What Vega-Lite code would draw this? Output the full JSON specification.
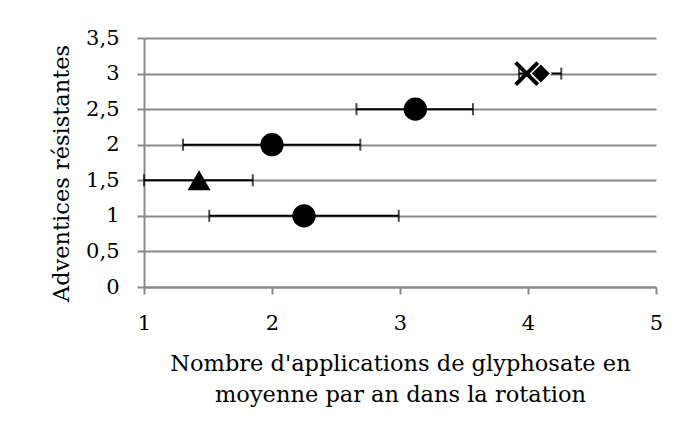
{
  "$schema": "https://vega.github.io/schema/vega-lite/v6.json",
  "autosize": "none",
  "width": 512,
  "height": 249,
  "padding": {"left": 144, "top": 38, "right": 43, "bottom": 152},
  "background": "white",
  "data": {
    "values": [
      {"serie": "a", "marqueur": "cercle", "x": 2.25, "y": 1, "lo": 1.51, "hi": 2.99},
      {"serie": "b", "marqueur": "triangle", "x": 1.43, "y": 1.5, "lo": 1.0, "hi": 1.85},
      {"serie": "c", "marqueur": "cercle", "x": 2.0, "y": 2, "lo": 1.305, "hi": 2.69},
      {"serie": "d", "marqueur": "cercle", "x": 3.12, "y": 2.5, "lo": 2.66, "hi": 3.57},
      {"serie": "e", "marqueur": "croix", "x": 3.99, "y": 3, "lo": null, "hi": null},
      {"serie": "f", "marqueur": "losange", "x": 4.1, "y": 3, "lo": 3.93, "hi": 4.26}
    ]
  },
  "encoding": {
    "y": {
      "type": "quantitative",
      "scale": {"domain": [0, 3.5], "nice": false, "zero": false},
      "axis": {
        "title": "Adventices résistantes",
        "values": [0, 0.5, 1, 1.5, 2, 2.5, 3, 3.5],
        "labelExpr": "replace(format(datum.value, '~g'), '.', ',')",
        "labelFlush": false,
        "grid": true,
        "gridColor": "#8a8a8a",
        "gridWidth": 2,
        "domainColor": "#8a8a8a",
        "domainWidth": 2,
        "tickColor": "#8a8a8a",
        "tickWidth": 2,
        "tickSize": 7,
        "labelPadding": 18,
        "titlePadding": 12,
        "titleY": 135
      }
    }
  },
  "layer": [
    {
      "mark": {"type": "rule", "color": "black", "strokeWidth": 2},
      "transform": [{"filter": "datum.lo != null"}],
      "encoding": {
        "x": {
          "field": "lo",
          "type": "quantitative",
          "scale": {"domain": [1, 5], "nice": false, "zero": false},
          "axis": {
            "title": ["Nombre d'applications de glyphosate en", "moyenne par an dans la rotation"],
            "values": [1, 2, 3, 4, 5],
            "format": "~g",
            "labelFlush": false,
            "grid": false,
            "domainColor": "#8a8a8a",
            "domainWidth": 2,
            "tickColor": "#8a8a8a",
            "tickWidth": 2,
            "tickSize": 7,
            "labelPadding": 18,
            "titlePadding": 19,
            "titleLineHeight": 31
          }
        },
        "x2": {"field": "hi"},
        "y": {"field": "y"}
      }
    },
    {
      "mark": {"type": "tick", "orient": "vertical", "color": "black", "thickness": 2, "size": 12},
      "transform": [{"filter": "datum.lo != null"}],
      "encoding": {"x": {"field": "lo", "type": "quantitative"}, "y": {"field": "y"}}
    },
    {
      "mark": {"type": "tick", "orient": "vertical", "color": "black", "thickness": 2, "size": 12},
      "transform": [{"filter": "datum.hi != null"}],
      "encoding": {"x": {"field": "hi", "type": "quantitative"}, "y": {"field": "y"}}
    },
    {
      "mark": {"type": "point", "shape": "circle", "filled": true, "color": "black", "opacity": 1, "size": 540},
      "transform": [{"filter": "datum.marqueur == 'cercle'"}],
      "encoding": {"x": {"field": "x", "type": "quantitative"}, "y": {"field": "y"}}
    },
    {
      "mark": {"type": "point", "shape": "triangle-up", "filled": true, "color": "black", "opacity": 1, "size": 529},
      "transform": [{"filter": "datum.marqueur == 'triangle'"}],
      "encoding": {"x": {"field": "x", "type": "quantitative"}, "y": {"field": "y"}}
    },
    {
      "mark": {"type": "point", "shape": "diamond", "filled": true, "color": "black", "stroke": "white", "strokeWidth": 1.5, "opacity": 1, "size": 400},
      "transform": [{"filter": "datum.marqueur == 'losange'"}],
      "encoding": {"x": {"field": "x", "type": "quantitative"}, "y": {"field": "y"}}
    },
    {
      "mark": {"type": "point", "shape": "M-1,-1L1,1M-1,1L1,-1", "filled": false, "color": "black", "strokeWidth": 4, "opacity": 1, "size": 484},
      "transform": [{"filter": "datum.marqueur == 'croix'"}],
      "encoding": {"x": {"field": "x", "type": "quantitative"}, "y": {"field": "y"}}
    }
  ],
  "config": {
    "view": {"stroke": null},
    "font": "DejaVu Serif",
    "axis": {
      "labelFont": "DejaVu Serif",
      "titleFont": "DejaVu Serif",
      "labelFontSize": 21,
      "titleFontSize": 22.5,
      "titleFontWeight": "normal",
      "labelColor": "black",
      "titleColor": "black"
    }
  }
}
